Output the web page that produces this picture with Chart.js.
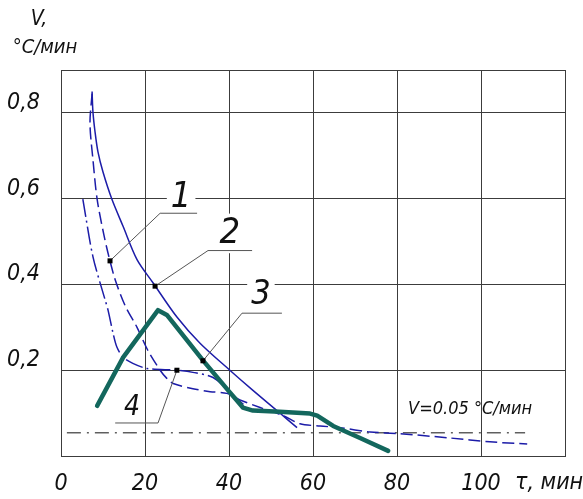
<!DOCTYPE html>
<html><head><meta charset="utf-8">
<script src="https://cdn.jsdelivr.net/npm/chart.js@4.4.1/dist/chart.umd.min.js"></script>
<style>html,body{margin:0;padding:0;background:#fff}#wrap{width:583px;height:499px;position:relative}</style>
</head><body><div id="wrap"><canvas id="c"></canvas></div>
<script>
// ---- data (τ, min ; V, °C/min) ----
const tauTicks = [0, 20, 40, 60, 80, 100, 120];
const vTicks = [0, 0.2, 0.4, 0.6, 0.8, 0.9];

const curve1Tau = [7.4, 6.9, 7.6, 8.6, 10.2, 11.4, 12.9, 15.2, 18.1, 20.7, 23.6, 25.2, 26.7, 31.4, 35.5, 39.5, 42.6, 47.4, 52.9, 56.9, 61.7, 66.4, 73.6, 80.7, 92.6, 102.1, 111.0];
const curve1V   = [0.845, 0.775, 0.692, 0.599, 0.516, 0.465, 0.411, 0.352, 0.300, 0.246, 0.200, 0.181, 0.169, 0.157, 0.150, 0.146, 0.131, 0.113, 0.094, 0.075, 0.070, 0.066, 0.056, 0.052, 0.042, 0.033, 0.028];

const curve2Tau = [7.4, 7.6, 8.1, 8.8, 10.0, 12.1, 14.8, 18.1, 21.9, 27.6, 33.1, 40.2, 45.7, 51.4, 56.2];
const curve2V   = [0.850, 0.803, 0.756, 0.709, 0.662, 0.599, 0.535, 0.458, 0.404, 0.324, 0.263, 0.200, 0.153, 0.106, 0.066];

const curve3Tau = [8.6, 14.8, 23.1, 25.2, 33.8, 39.8, 43.3, 45.7, 52.1, 59.3, 61.0, 64.8, 71.2, 77.9];
const curve3V   = [0.117, 0.230, 0.340, 0.329, 0.223, 0.153, 0.113, 0.106, 0.103, 0.099, 0.094, 0.070, 0.042, 0.012];

const curve4Tau = [5.2, 7.6, 10.5, 11.2, 12.4, 13.3, 14.8, 17.1, 20.5, 27.6, 31.4, 36.2, 39.8, 43.8];
const curve4V   = [0.599, 0.465, 0.364, 0.340, 0.286, 0.254, 0.230, 0.216, 0.204, 0.200, 0.195, 0.183, 0.153, 0.117];

const limitTau = [1.4, 110.5];
const limitV   = [0.054, 0.054];

// ---- annotations (curve numbers with leader lines) ----
const leaders = [
  {label: '1', dot: [11.67, 0.455], elbow: [23.6, 0.566], end: [32.4, 0.566], text: [28.6, 0.603], size: 36},
  {label: '2', dot: [22.4, 0.396],  elbow: [35.0, 0.479], end: [45.5, 0.479], text: [40.2, 0.519], size: 36},
  {label: '3', dot: [33.8, 0.222],  elbow: [43.1, 0.333], end: [52.6, 0.333], text: [47.6, 0.376], size: 34},
  {label: '4', dot: [27.6, 0.200],  elbow: [23.1, 0.077], end: [12.9, 0.077], text: [16.9, 0.113], size: 28}
];

const FONT = "'DejaVu Sans Condensed','Liberation Sans Narrow','Liberation Sans',sans-serif";
const BLUE = '#1c1ca8';
const TEAL = '#13675d';
const GRID = '#3c3c3c';

function pts(xs, ys) { return xs.map((x, i) => ({x: x, y: ys[i]})); }

const annot = {
  id: 'annot',
  afterDraw(chart) {
    const ctx = chart.ctx, xs = chart.scales.x, ys = chart.scales.y, ca = chart.chartArea;
    const px = v => xs.getPixelForValue(v), py = v => ys.getPixelForValue(v);
    ctx.save();
    leaders.forEach(l => {
      ctx.font = 'italic ' + l.size + 'px ' + FONT;
      const tx = px(l.text[0]), ty = py(l.text[1]);
      const w = ctx.measureText(l.label).width;
      ctx.fillStyle = '#fff';
      ctx.fillRect(tx - w / 2 - 4, ty - l.size * 0.55, w + 8, l.size * 1.1);
      ctx.strokeStyle = '#555'; ctx.lineWidth = 1;
      ctx.beginPath();
      ctx.moveTo(px(l.dot[0]), py(l.dot[1]));
      ctx.lineTo(px(l.elbow[0]), py(l.elbow[1]));
      ctx.lineTo(px(l.end[0]), py(l.end[1]));
      ctx.stroke();
      ctx.fillStyle = '#000';
      ctx.fillRect(px(l.dot[0]) - 2.5, py(l.dot[1]) - 2.5, 5, 5);
      ctx.fillStyle = '#111'; ctx.textAlign = 'center'; ctx.textBaseline = 'middle';
      ctx.fillText(l.label, tx, ty);
    });
    ctx.fillStyle = '#111';
    ctx.textAlign = 'center'; ctx.textBaseline = 'middle';
    ctx.font = 'italic 18px ' + FONT;
    ctx.fillText('V=0.05 °C/мин', px(97.4), py(0.108));
    ctx.font = 'italic 23px ' + FONT;
    ctx.fillText('τ, мин', px(116.2), ca.bottom + 27);
    ctx.font = 'italic 21px ' + FONT;
    ctx.fillText('V,', ca.left - 22, ca.top - 50);
    ctx.font = 'italic 20px ' + FONT;
    ctx.fillText('°C/мин', ca.left - 16, ca.top - 22);
    ctx.restore();
  }
};

new Chart(document.getElementById('c'), {
  type: 'line',
  data: {
    datasets: [
      {data: pts(curve3Tau, curve3V), borderColor: TEAL, borderWidth: 4.5, tension: 0, borderJoinStyle: 'round', borderCapStyle: 'round', order: 0},
      {data: pts(curve2Tau, curve2V), borderColor: BLUE, borderWidth: 1.5, tension: 0.3, order: 1},
      {data: pts(curve1Tau, curve1V), borderColor: BLUE, borderWidth: 1.5, tension: 0.3, borderDash: [12, 5], order: 1},
      {data: pts(curve4Tau, curve4V), borderColor: BLUE, borderWidth: 1.5, tension: 0.3, borderDash: [18, 4, 2, 4], order: 1},
      {data: pts(limitTau, limitV), borderColor: '#111', borderWidth: 1, tension: 0, borderDash: [14, 6, 2, 6], order: 2}
    ]
  },
  options: {
    responsive: true,
    maintainAspectRatio: false,
    animation: false,
    layout: {padding: {left: 7, top: 70, right: 18, bottom: 0}},
    elements: {point: {radius: 0, hoverRadius: 0}},
    plugins: {legend: {display: false}, tooltip: {enabled: false}},
    scales: {
      x: {
        type: 'linear', min: 0, max: 120,
        afterBuildTicks: s => { s.ticks = tauTicks.map(v => ({value: v})); },
        afterFit: s => { s.height = 43; },
        grid: {color: GRID, lineWidth: 1, drawTicks: false},
        border: {color: GRID},
        ticks: {
          padding: 14,
          color: '#111',
          font: {family: FONT, size: 23, style: 'italic'},
          callback: v => (v === 120 ? '' : String(v))
        }
      },
      y: {
        type: 'linear', min: 0, max: 0.9,
        afterBuildTicks: s => { s.ticks = vTicks.map(v => ({value: v})); },
        afterFit: s => { s.width = 54; },
        grid: {color: GRID, lineWidth: 1, drawTicks: false},
        border: {color: GRID},
        ticks: {
          crossAlign: 'far',
          labelOffset: -10,
          color: '#111',
          font: {family: FONT, size: 23, style: 'italic'},
          callback: v => (v > 0.05 && v < 0.85 ? v.toFixed(1).replace('.', ',') : '')
        }
      }
    }
  },
  plugins: [annot]
});
</script>
</body></html>
